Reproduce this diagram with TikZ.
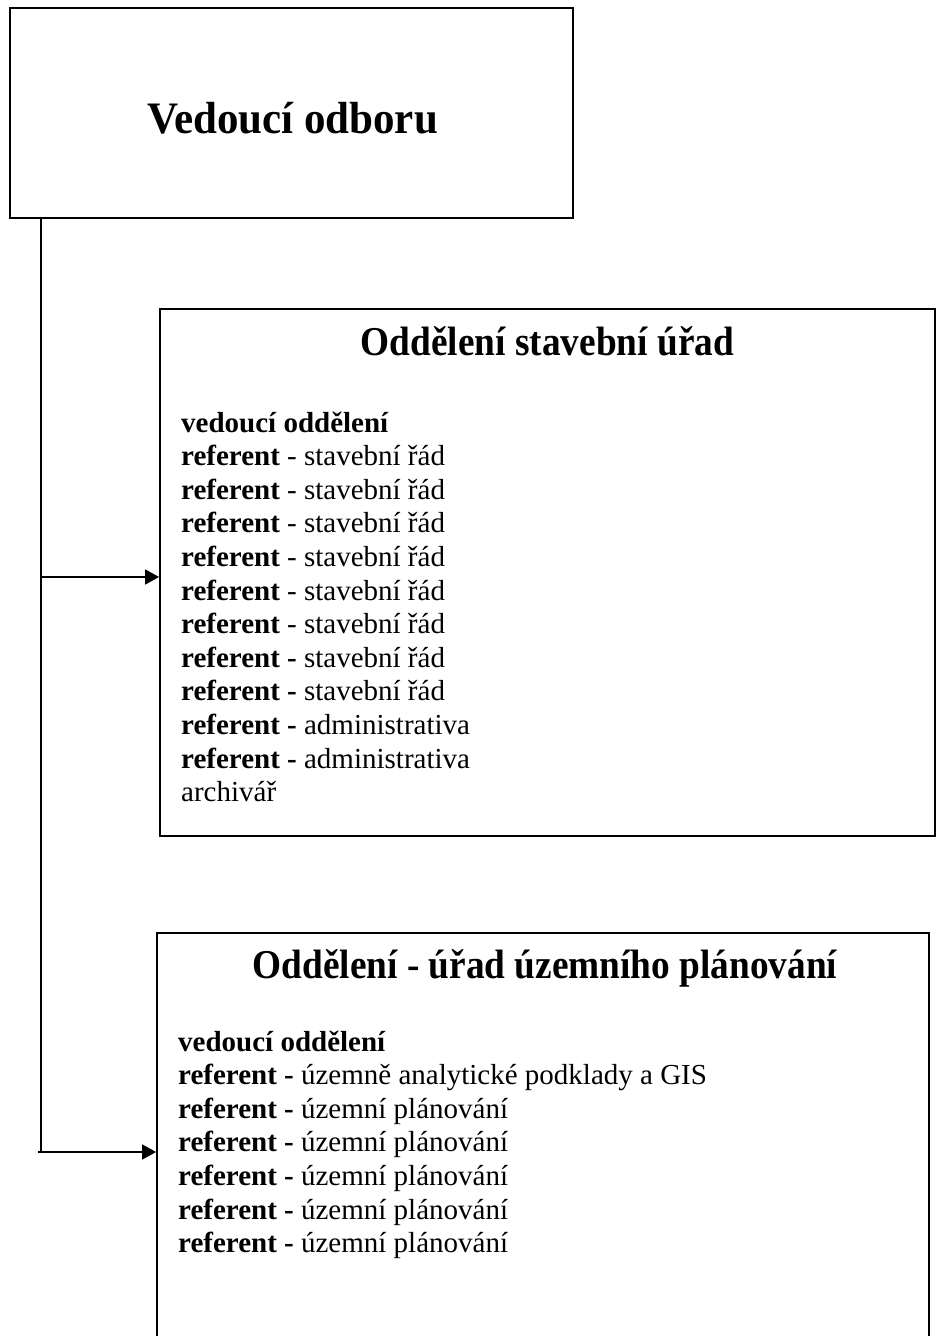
\documentclass[tikz,border=0pt]{standalone}
\usepackage{fontspec}
\setmainfont{Liberation Serif}
\newfontfamily\headfont{Liberation Serif}[FakeStretch=0.955]
\newfontfamily\deptfont{Liberation Serif}[FakeStretch=0.91]
\usetikzlibrary{arrows.meta}
\begin{document}
\begin{tikzpicture}[x=1pt,y=-1pt,
  box/.style={draw,line width=1.8pt,inner sep=0pt},
  conn/.style={line width=1.6pt,-{Triangle[length=14pt,width=15pt]}},
  plainline/.style={line width=1.6pt},
  bigtitle/.style={font=\fontsize{45}{50}\headfont\bfseries,inner sep=0pt,anchor=base},
  title/.style={font=\fontsize{41}{46}\deptfont\bfseries,inner sep=0pt,anchor=base},
  body/.style={font=\fontsize{29}{33.6}\selectfont,inner sep=0pt,anchor=base west}]
\useasboundingbox (0,0) rectangle (936,1336);
\clip (0,0) rectangle (936,1336);
\fill[white] (0,0) rectangle (936,1336);
% boxes
\node[box,minimum width=563pt,minimum height=210pt] (top) at (291.5,113) {};
\node[box,minimum width=775pt,minimum height=527pt] (box2) at (547.5,572.5) {};
\node[box,minimum width=772pt,minimum height=480pt] (box3) at (543,1173) {};
% titles
\node[bigtitle] (t1) at (292.5,133) {Vedoucí odboru};
\node[title] (t2) at (547.5,355) {Oddělení stavební úřad};
\node[title] (t3) at (545,978) {Oddělení - úřad územního plánování};
% bodies
\node[body] (b2) at (181,432) {\begin{tabular}[t]{@{}l@{}}
\textbf{vedoucí oddělení}\\
\textbf{referent} - stavební řád\\
\textbf{referent} - stavební řád\\
\textbf{referent} - stavební řád\\
\textbf{referent} - stavební řád\\
\textbf{referent} - stavební řád\\
\textbf{referent} - stavební řád\\
\textbf{referent -} stavební řád\\
\textbf{referent -} stavební řád\\
\textbf{referent -} administrativa\\
\textbf{referent -} administrativa\\
archivář
\end{tabular}};
\node[body] (b3) at (178,1051) {\begin{tabular}[t]{@{}l@{}}
\textbf{vedoucí oddělení}\\
\textbf{referent -} územně analytické podklady a GIS\\
\textbf{referent -} územní plánování\\
\textbf{referent -} územní plánování\\
\textbf{referent -} územní plánování\\
\textbf{referent -} územní plánování\\
\textbf{referent -} územní plánování
\end{tabular}};
% connectors
\coordinate (j1) at (41,577);
\coordinate (j2) at (41,1152);
\coordinate (j2s) at (38,1152);
\draw[plainline] (j1 |- top.south) -- (j2);
\draw[conn] (j1) -- (j1 -| box2.west);
\draw[conn] (j2s) -- (j2 -| box3.west);
\end{tikzpicture}
\end{document}
